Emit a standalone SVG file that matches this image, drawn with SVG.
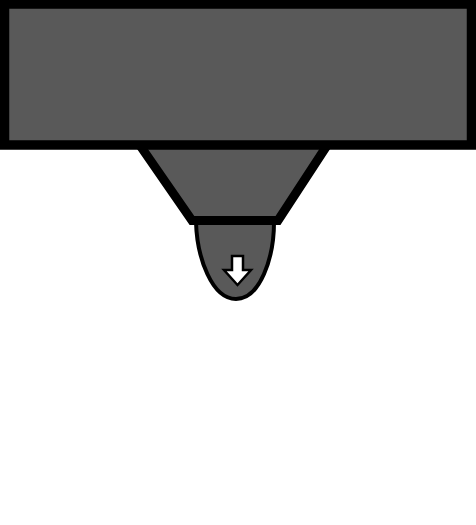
<svg xmlns="http://www.w3.org/2000/svg" width="476" height="525" viewBox="0 0 476 525">
<style>
.body{fill:#595959;stroke:#000;stroke-linejoin:miter}
</style>
<rect width="476" height="525" fill="#fff"/>
<g id="tip">
<path class="body" stroke-width="4" d="M196,222 C197,258 212,299 236,299 C260,299 274,258 274,222 Z"/>
<path d="M232,256 L243,256 L243,270 L251,270 L237.5,285 L224,270 L232,270 Z" fill="#fff" stroke="#000" stroke-width="2.5"/>
</g>
<g id="nozzle">
<path class="body" stroke-width="9" d="M139,144 L192,220.5 L278,220.5 L328,144 Z"/>
</g>
<g id="block">
<rect class="body" x="4.5" y="4" width="467" height="141" stroke-width="9.5"/>
</g>
</svg>
